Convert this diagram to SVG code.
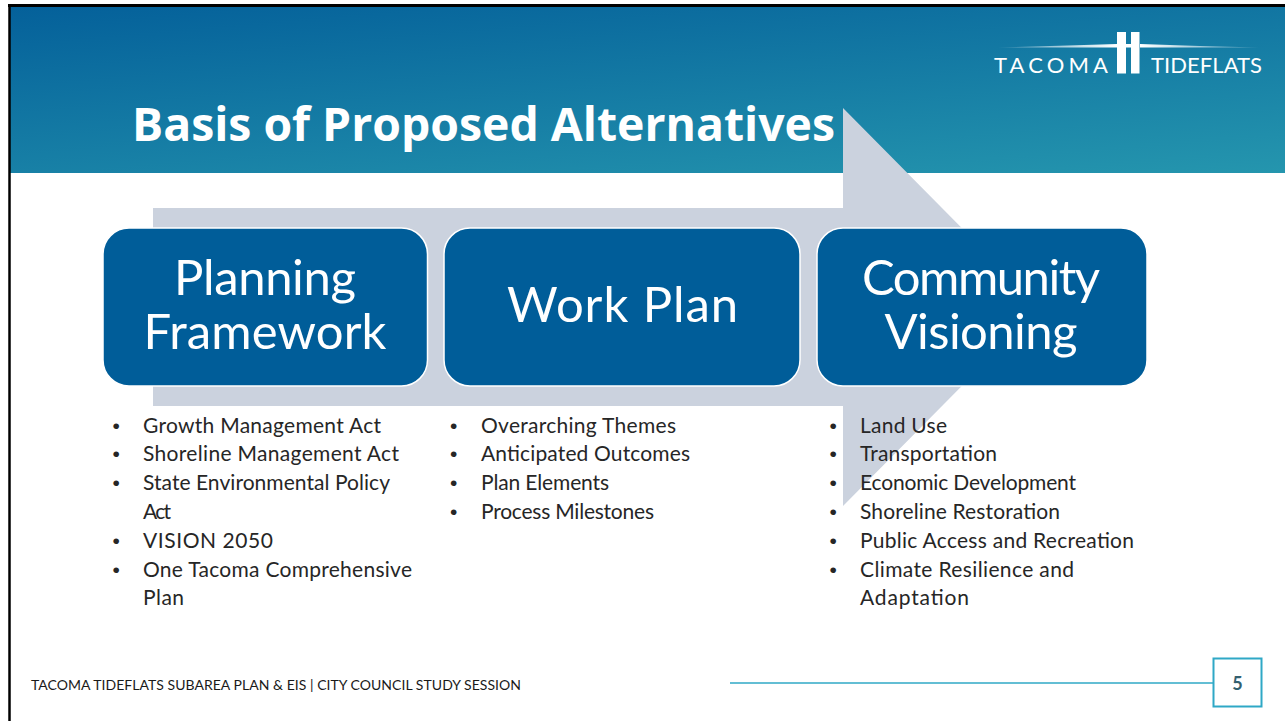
<svg xmlns="http://www.w3.org/2000/svg" width="1285" height="721" viewBox="0 0 1285 721">
<defs>
<linearGradient id="hdr" gradientUnits="userSpaceOnUse" x1="9" y1="5" x2="33" y2="283">
<stop offset="0" stop-color="#04609a"/><stop offset="1" stop-color="#2596ae"/>
</linearGradient>
<linearGradient id="beam" gradientUnits="userSpaceOnUse" x1="998" y1="0" x2="1259" y2="0">
<stop offset="0" stop-color="#fff" stop-opacity="0.200"/><stop offset="0.450" stop-color="#fff"/><stop offset="0.550" stop-color="#fff"/><stop offset="1" stop-color="#fff" stop-opacity="0.200"/>
</linearGradient>
</defs>
<style>
.node{fill:#005d99;stroke:#ffffff;stroke-width:1.5}
.big{font-family:"Lato","Liberation Sans",sans-serif;font-size:49px;fill:#fff;text-anchor:middle}
.li{font-family:"Lato","Liberation Sans",sans-serif;font-size:21px;fill:#262626}
.b{font-family:"Liberation Sans",sans-serif;font-size:21px;fill:#262626}
</style>
<rect width="1285" height="721" fill="#fff"/>
<rect x="9" y="5" width="1276" height="168" fill="url(#hdr)"/>
<path d="M9.500 4V721" stroke="#000" stroke-width="2.500" fill="none"/>
<path d="M8 5.500H1285" stroke="#000" stroke-width="3" fill="none"/>
<text x="132" y="141" font-family="Open Sans,Liberation Sans,sans-serif" font-weight="700" font-size="47" fill="#fff" textLength="703" lengthAdjust="spacingAndGlyphs">Basis of Proposed Alternatives</text>
<g id="logo">
<path d="M998 47.500Q1060 46 1117 44V47.500Q1060 47.500 998 47.500ZM1140 44Q1200 46 1259 47.500Q1200 47.500 1140 47.500Z" fill="url(#beam)"/>
<rect x="1117" y="32" width="9" height="41.500" fill="#fff"/><rect x="1131" y="32" width="8.500" height="41.500" fill="#fff"/><rect x="1126" y="44" width="5" height="3.500" fill="#fff"/>
<text x="994" y="73" font-family="Lato,Liberation Sans,sans-serif" font-size="22" fill="#fff" textLength="114">TACOMA</text>
<text x="1151" y="73" font-family="Lato,Liberation Sans,sans-serif" font-size="22" fill="#fff" textLength="111">TIDEFLATS</text>
</g>
<g id="connectors"><path id="arrow" d="M153 208H843V108L1040 307L843 506V406H153Z" fill="#cbd2de"/></g>
<g id="planning"><rect class="node" x="103" y="228" width="324.500" height="158" rx="26"/><text class="big" x="265" y="295" textLength="182">Planning</text><text class="big" x="265" y="349" textLength="243">Framework</text></g>
<g id="workplan"><rect class="node" x="444" y="228" width="356" height="158" rx="26"/><text class="big" x="622.500" y="322" textLength="231">Work Plan</text></g>
<g id="visioning"><rect class="node" x="817" y="228" width="330" height="158" rx="26"/><text class="big" x="981" y="295" textLength="238">Community</text><text class="big" x="981" y="349" textLength="193">Visioning</text></g>
<g id="list1">
<text class="b" x="112.500" y="433">•</text><text class="li" x="143" y="433" textLength="238">Growth Management Act</text>
<text class="b" x="112.500" y="461">•</text><text class="li" x="143" y="461" textLength="256">Shoreline Management Act</text>
<text class="b" x="112.500" y="490">•</text><text class="li" x="143" y="490" textLength="247">State Environmental Policy</text>
<text class="li" x="143" y="519" textLength="28">Act</text>
<text class="b" x="112.500" y="548">•</text><text class="li" x="143" y="548" textLength="130">VISION 2050</text>
<text class="b" x="112.500" y="577">•</text><text class="li" x="143" y="577" textLength="269">One Tacoma Comprehensive</text>
<text class="li" x="143" y="605" textLength="41">Plan</text>
</g>
<g id="list2">
<text class="b" x="450" y="433">•</text><text class="li" x="481" y="433" textLength="195">Overarching Themes</text>
<text class="b" x="450" y="461">•</text><text class="li" x="481" y="461" textLength="209">Anticipated Outcomes</text>
<text class="b" x="450" y="490">•</text><text class="li" x="481" y="490" textLength="128">Plan Elements</text>
<text class="b" x="450" y="519">•</text><text class="li" x="481" y="519" textLength="173">Process Milestones</text>
</g>
<g id="list3">
<text class="b" x="829.500" y="433">•</text><text class="li" x="860" y="433" textLength="87">Land Use</text>
<text class="b" x="829.500" y="461">•</text><text class="li" x="860" y="461" textLength="137">Transportation</text>
<text class="b" x="829.500" y="490">•</text><text class="li" x="860" y="490" textLength="216">Economic Development</text>
<text class="b" x="829.500" y="519">•</text><text class="li" x="860" y="519" textLength="200">Shoreline Restoration</text>
<text class="b" x="829.500" y="548">•</text><text class="li" x="860" y="548" textLength="274">Public Access and Recreation</text>
<text class="b" x="829.500" y="577">•</text><text class="li" x="860" y="577" textLength="214">Climate Resilience and</text>
<text class="li" x="860" y="605" textLength="109">Adaptation</text>
</g>
<text x="31" y="690" font-family="Lato,Liberation Sans,sans-serif" font-size="14" fill="#1a1a1a" textLength="490">TACOMA TIDEFLATS SUBAREA PLAN &amp; EIS | CITY COUNCIL STUDY SESSION</text>
<path d="M730 683H1213" stroke="#2fa8c6" stroke-width="1.500"/>
<rect x="1213.500" y="658.500" width="48" height="48" fill="#fff" stroke="#2fa8c6" stroke-width="2"/>
<text x="1237.500" y="690" font-family="Lato,Liberation Sans,sans-serif" font-weight="700" font-size="18" fill="#33606f" text-anchor="middle">5</text>
</svg>
